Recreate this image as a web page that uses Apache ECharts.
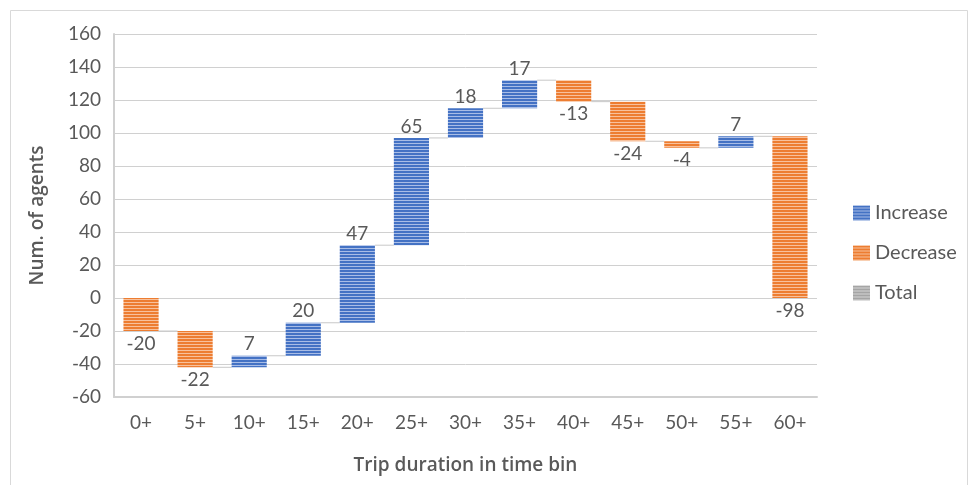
<!DOCTYPE html>
<html>
<head>
<meta charset="utf-8">
<title>Trip duration waterfall</title>
<script src="https://cdn.jsdelivr.net/npm/echarts@6/dist/echarts.min.js"></script>
<style>
  html, body { margin: 0; padding: 0; background: #ffffff; }
  #chart { width: 970px; height: 485px; }
</style>
</head>
<body>
<div id="chart"></div>
<script>
// Time bins and the change in agent count for each bin
const categories = ['0+', '5+', '10+', '15+', '20+', '25+', '30+', '35+', '40+', '45+', '50+', '55+', '60+'];
const changes = [-20, -22, 7, 20, 47, 65, 18, 17, -13, -24, -4, 7, -98];
const yTicks = { min: -60, max: 160, interval: 20 };

// Running totals give each floating bar its start and end
const rows = [];
let running = 0;
changes.forEach(function (d, i) {
  const start = running;
  running += d;
  rows.push([i, start, running, d]);
});
const increaseRows = rows.filter(function (r) { return r[3] >= 0; });
const decreaseRows = rows.filter(function (r) { return r[3] < 0; });
const totalRows = [];

// Striped fills: solid colour with a lighter horizontal line every few pixels
function stripes(base, light) {
  const c = document.createElement('canvas');
  c.width = 4; c.height = 3;
  const ctx = c.getContext('2d');
  ctx.fillStyle = base; ctx.fillRect(0, 0, 4, 3);
  ctx.fillStyle = light; ctx.fillRect(0, 2, 4, 1);
  return { image: c, repeat: 'repeat' };
}
const blueFill = stripes('#4472c4', '#a9bde6');
const orangeFill = stripes('#ed7d31', '#f8c19c');
const grayFill = stripes('#a5a5a5', '#d6d6d6');

const textColor = '#595959';
const fontFamily = 'Lato, "Liberation Sans", sans-serif';
const titleFont = '"Open Sans", "Noto Sans", sans-serif';

function makeRender(fill, labelBelow) {
  return function (params, api) {
    const i = api.value(0);
    const start = api.value(1);
    const end = api.value(2);
    const delta = api.value(3);
    const band = api.size([1, 0])[0];
    const w = band * 0.65;
    const p0 = api.coord([i, start]);
    const p1 = api.coord([i, end]);
    const top = Math.min(p0[1], p1[1]);
    const bottom = Math.max(p0[1], p1[1]);
    const x = p0[0] - w / 2;
    const children = [{
      type: 'rect',
      shape: { x: x, y: top, width: w, height: bottom - top },
      style: { fill: fill }
    }, {
      type: 'text',
      style: {
        text: String(delta),
        x: p0[0],
        y: labelBelow ? bottom + 3 : top - 2,
        align: 'center',
        verticalAlign: labelBelow ? 'top' : 'bottom',
        fill: textColor,
        font: '19px ' + fontFamily
      }
    }];
    // Connector from this bar's end to the next bar
    if (i < categories.length - 1) {
      const next = api.coord([i + 1, end]);
      children.push({
        type: 'line',
        shape: { x1: x + w, y1: p1[1], x2: next[0] - w / 2, y2: p1[1] },
        style: { stroke: '#c8c8c8', lineWidth: 1 },
        z2: -1
      });
    }
    return { type: 'group', children: children };
  };
}

const chart = echarts.init(document.getElementById('chart'), null, { renderer: 'canvas' });
chart.setOption({
  backgroundColor: '#ffffff',
  animation: false,
  graphic: [{
    type: 'rect',
    shape: { x: 10.5, y: 10.5, width: 957, height: 480 },
    style: { fill: 'none', stroke: '#d9d9d9', lineWidth: 1 },
    silent: true
  }],
  grid: { left: 114, right: 153, top: 34, bottom: 88 },
  legend: {
    orient: 'vertical',
    left: 848,
    top: 198,
    itemWidth: 17,
    itemHeight: 15,
    itemGap: 20,
    icon: 'rect',
    textStyle: { color: textColor, fontSize: 20, fontFamily: fontFamily },
    data: ['Increase', 'Decrease', 'Total']
  },
  xAxis: {
    type: 'category',
    data: categories,
    name: 'Trip duration in time bin',
    nameLocation: 'middle',
    nameGap: 59,
    nameTextStyle: { color: textColor, fontSize: 19, fontWeight: 600, fontFamily: titleFont },
    axisLine: { onZero: false, lineStyle: { color: '#d0d0d0', width: 2 } },
    axisTick: { show: false },
    axisLabel: { color: textColor, fontSize: 19, margin: 16, fontFamily: fontFamily },
    splitLine: { show: false }
  },
  yAxis: {
    type: 'value',
    min: yTicks.min,
    max: yTicks.max,
    interval: yTicks.interval,
    name: 'Num. of agents',
    nameLocation: 'middle',
    nameGap: 67,
    nameRotate: 90,
    nameTextStyle: { color: textColor, fontSize: 19, fontWeight: 600, fontFamily: titleFont },
    axisLine: { show: true, lineStyle: { color: '#d0d0d0', width: 2 } },
    axisTick: { show: false },
    axisLabel: { color: textColor, fontSize: 19, margin: 13, fontFamily: fontFamily },
    splitLine: { show: true, lineStyle: { color: '#d0d0d0', width: 1 } }
  },
  series: [{
    name: 'Increase',
    type: 'custom',
    renderItem: makeRender(blueFill, false),
    itemStyle: { color: blueFill },
    encode: { x: 0, y: [1, 2] },
    data: increaseRows
  }, {
    name: 'Decrease',
    type: 'custom',
    renderItem: makeRender(orangeFill, true),
    itemStyle: { color: orangeFill },
    encode: { x: 0, y: [1, 2] },
    data: decreaseRows
  }, {
    name: 'Total',
    type: 'custom',
    renderItem: makeRender(grayFill, false),
    itemStyle: { color: grayFill },
    encode: { x: 0, y: [1, 2] },
    data: totalRows
  }]
});
</script>
</body>
</html>
